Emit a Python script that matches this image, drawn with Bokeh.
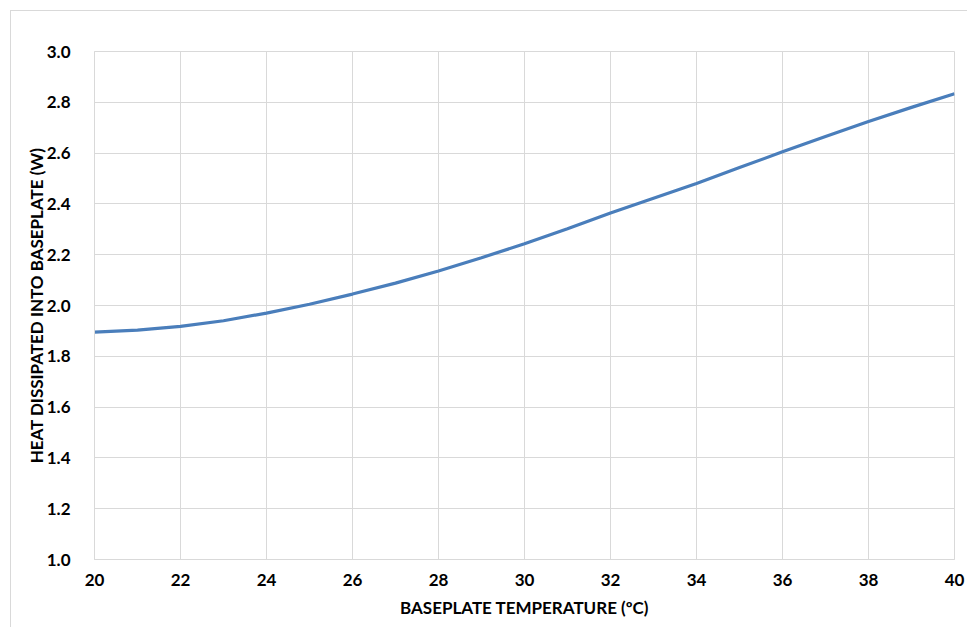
from bokeh.plotting import figure
from bokeh.models import FixedTicker, Range1d, CustomJSTickFormatter
from bokeh.embed import file_html
from bokeh.resources import INLINE

temperature = [20, 21, 22, 23, 24, 25, 26, 27, 28, 29, 30, 31, 32, 33, 34, 35, 36, 37, 38, 39, 40]
heat = [1.895, 1.903, 1.918, 1.94, 1.97, 2.005, 2.045, 2.088, 2.136, 2.188, 2.243, 2.302, 2.364, 2.422,
        2.48, 2.543, 2.605, 2.665, 2.724, 2.78, 2.834]
x_ticks = list(range(20, 41, 2))
y_ticks = [1.0, 1.2, 1.4, 1.6, 1.8, 2.0, 2.2, 2.4, 2.6, 2.8, 3.0]

FONT = "Lato"
GRID = "#d9d9d9"

p = figure(width=957, height=617, output_backend="svg", toolbar_location=None,
           x_range=Range1d(20, 40), y_range=Range1d(1.0, 3.0),
           min_border_left=83, min_border_right=14, min_border_top=40, min_border_bottom=69)
p.margin = (10, 0, 0, 10)
p.styles = {"border-top": "1px solid #d9d9d9", "border-left": "1px solid #d9d9d9"}

p.line(temperature, heat, line_color="#4a7ebb", line_width=3.2)

p.xaxis.ticker = FixedTicker(ticks=x_ticks)
p.yaxis.ticker = FixedTicker(ticks=y_ticks)
p.yaxis.formatter = CustomJSTickFormatter(code="return tick.toFixed(1);")

for ax in (p.xaxis, p.yaxis):
    ax.major_tick_line_color = None
    ax.minor_tick_line_color = None
    ax.axis_line_color = GRID
    ax.major_label_text_font = FONT
    ax.major_label_text_font_style = "bold"
    ax.major_label_text_font_size = "17px"
    ax.major_label_text_color = "#000000"
    ax.axis_label_text_font = FONT
    ax.axis_label_text_font_style = "bold"
    ax.axis_label_text_font_size = "17px"
    ax.axis_label_text_color = "#000000"

p.xaxis.axis_label = "BASEPLATE TEMPERATURE (ºC)"
p.yaxis.axis_label = "HEAT DISSIPATED INTO BASEPLATE (W)"
p.xaxis.major_label_standoff = 8
p.yaxis.major_label_standoff = 18
p.xaxis.axis_label_standoff = 8
p.yaxis.axis_label_standoff = -3

p.grid.grid_line_color = GRID
p.grid.grid_line_width = 1
p.outline_line_color = GRID
p.outline_line_width = 1

open("out.html", "w").write(file_html(p, INLINE))
